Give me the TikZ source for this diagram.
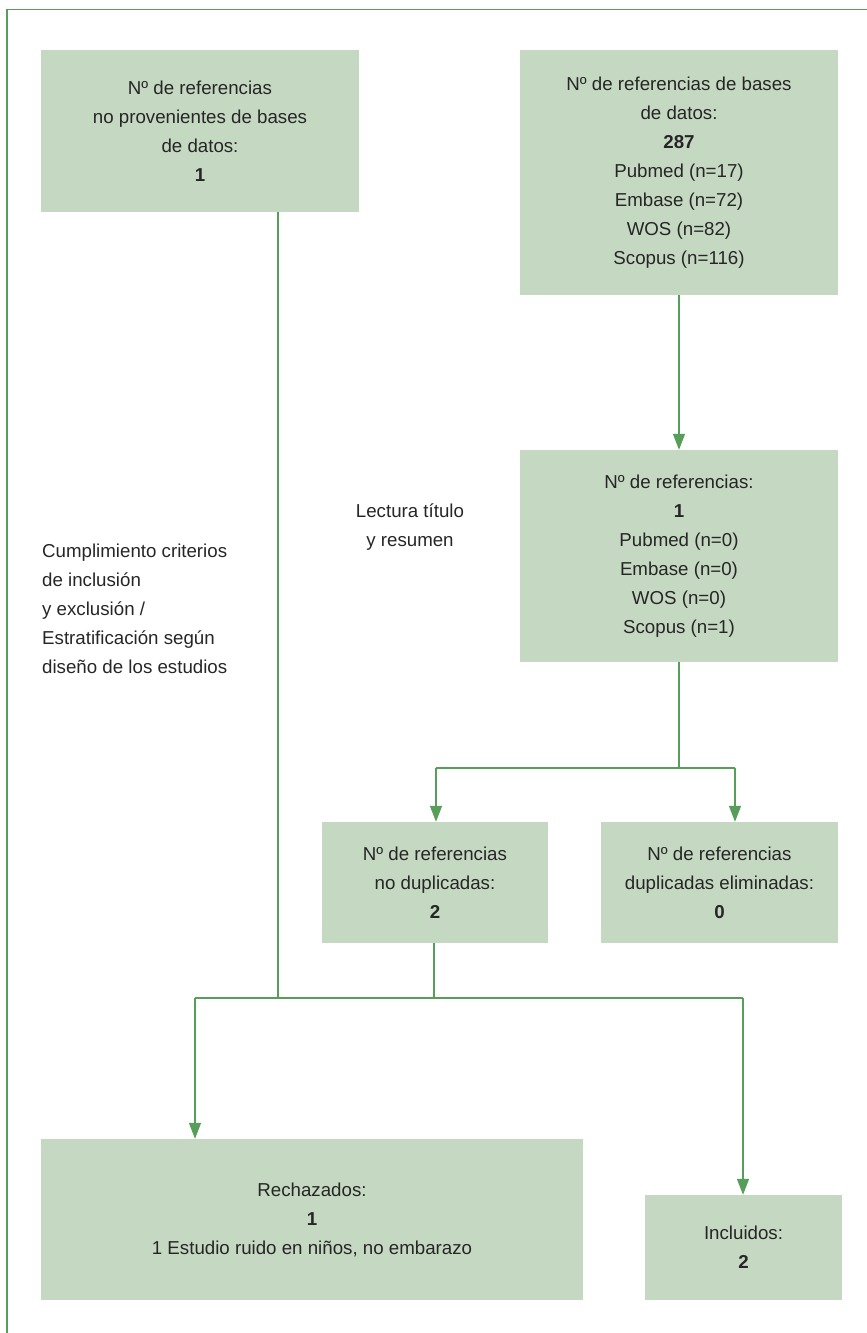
\documentclass[tikz,border=0pt]{standalone}
\usepackage{fontspec}
\setmainfont{Liberation Sans}
\usetikzlibrary{arrows.meta}
\definecolor{boxfill}{RGB}{197,216,194}
\definecolor{linegreen}{RGB}{86,158,90}
\definecolor{txt}{RGB}{38,38,38}
\begin{document}
\begin{tikzpicture}[x=1pt,y=-1pt,
  every node/.style={text=txt,font=\fontsize{18.7}{29}\selectfont},
  flowbox/.style={fill=boxfill,draw=none,align=center,inner sep=0pt},
  link/.style={draw=linegreen,line width=1.4pt},
  arrowlink/.style={link,-{Triangle[width=12pt,length=16pt]}},
  note/.style={align=left,inner sep=0pt}]
\useasboundingbox (0,0) rectangle (867,1333);

% outer frame (top and left edges)
\draw[link] (7,1333) -- (7,9.5) -- (867,9.5);

% boxes
\node[flowbox,minimum width=318pt,minimum height=162pt] (noDB) at (200,131)
  {Nº de referencias\\no provenientes de bases\\de datos:\\\textbf{1}};
\node[flowbox,minimum width=318pt,minimum height=245pt] (db) at (679,172.5)
  {Nº de referencias de bases\\de datos:\\\textbf{287}\\Pubmed (n=17)\\Embase (n=72)\\WOS (n=82)\\Scopus (n=116)};
\node[flowbox,minimum width=318pt,minimum height=212pt] (screen) at (679,556)
  {Nº de referencias:\\\textbf{1}\\Pubmed (n=0)\\Embase (n=0)\\WOS (n=0)\\Scopus (n=1)};
\node[flowbox,minimum width=226pt,minimum height=121pt] (nodup) at (435,882.5)
  {Nº de referencias\\no duplicadas:\\\textbf{2}};
\node[flowbox,minimum width=237pt,minimum height=121pt] (dup) at (719.5,882.5)
  {Nº de referencias\\duplicadas eliminadas:\\\textbf{0}};
\node[flowbox,minimum width=542pt,minimum height=161pt] (rej) at (312,1219.5)
  {Rechazados:\\\textbf{1}\\1 Estudio ruido en niños, no embarazo};
\node[flowbox,minimum width=197pt,minimum height=105pt] (inc) at (743.5,1247.5)
  {Incluidos:\\\textbf{2}};

% side notes
\node[align=center,inner sep=0pt] (readnote) at (410,527) {Lectura título\\y resumen};
\node[note,anchor=west] (critnote) at (42,609)
  {Cumplimiento criterios\\de inclusión\\y exclusión /\\Estratificación según\\diseño de los estudios};

% junction points
\coordinate (split) at (679,768);
\coordinate (splitL) at (436,768);
\coordinate (splitR) at (735,768);
\coordinate (merge) at (434,998);
\coordinate (mergeA) at (278,998);
\coordinate (mergeL) at (195,998);
\coordinate (mergeR) at (743,998);

% connectors
\draw[arrowlink] (db.south) -- (screen.north);
\draw[link] (screen.south) -- (split);
\draw[link] (splitL) -- (splitR);
\draw[arrowlink] (splitL) -- (splitL |- nodup.north);
\draw[arrowlink] (splitR) -- (splitR |- dup.north);
\draw[link] (nodup.south -| merge) -- (merge);
\draw[link] (mergeA |- noDB.south) -- (mergeA);
\draw[link] (mergeL) -- (mergeR);
\draw[arrowlink] (mergeL) -- (mergeL |- rej.north);
\draw[arrowlink] (mergeR) -- (mergeR |- inc.north);
\end{tikzpicture}
\end{document}
